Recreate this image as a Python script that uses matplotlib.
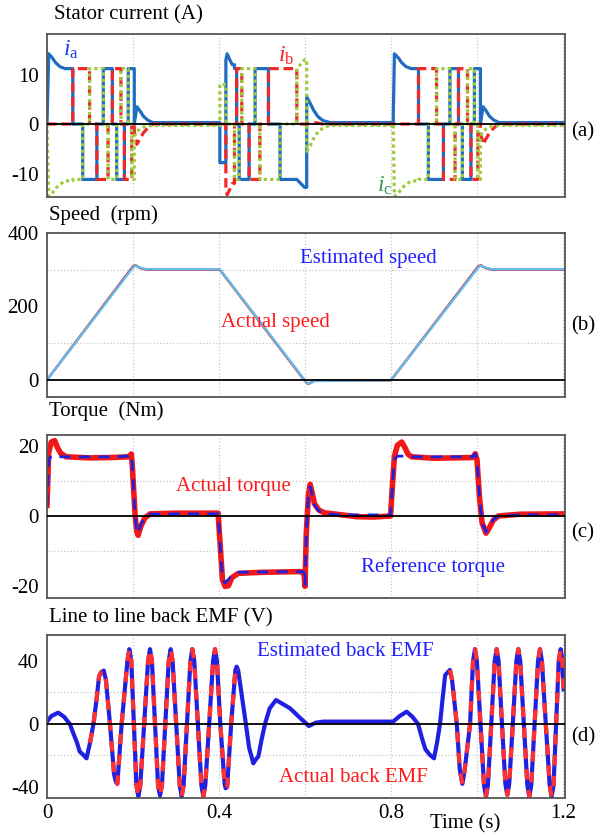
import numpy as np
import matplotlib
matplotlib.use('Agg')
import matplotlib.pyplot as plt

plt.rcParams['font.family'] = ['Liberation Serif', 'DejaVu Serif']
plt.rcParams['mathtext.fontset'] = 'custom'
plt.rcParams['mathtext.rm'] = 'Liberation Serif'
plt.rcParams['mathtext.it'] = 'Liberation Serif:italic'

# ---- (a) stator currents: breakpoints (s), phase levels (A) ----
# cur_jump = 1 where the current switches abruptly, 0 where it ramps from the previous point
cur_t = [0.000, 0.004, 0.012, 0.020, 0.030, 0.042, 0.060, 0.083, 0.099, 0.116,
         0.131, 0.142, 0.152, 0.162, 0.172, 0.180, 0.189, 0.197, 0.203, 0.209,
         0.216, 0.224, 0.234, 0.246,
         0.402, 0.416, 0.419, 0.425, 0.431, 0.436, 0.441, 0.447, 0.453, 0.470,
         0.484, 0.495, 0.515, 0.542, 0.581, 0.599, 0.604, 0.612, 0.620, 0.630,
         0.642, 0.658,
         0.805, 0.808, 0.817, 0.825, 0.835, 0.847, 0.864, 0.887, 0.906, 0.922,
         0.937, 0.949, 0.957, 0.966, 0.978, 0.986, 0.994, 1.002, 1.008, 1.014,
         1.021, 1.029, 1.039, 1.051, 1.205]
cur_jump = [1, 0, 0, 0, 0, 0, 1, 1, 1, 1,
            1, 1, 1, 1, 1, 1, 1, 1, 1, 0,
            0, 0, 0, 0,
            1, 1, 0, 0, 0, 1, 1, 1, 1, 1,
            1, 1, 1, 1, 1, 0, 1, 0, 0, 0,
            0, 0,
            1, 0, 0, 0, 0, 0, 1, 1, 1, 1,
            1, 1, 1, 1, 1, 1, 1, 1, 1, 0,
            0, 0, 0, 0, 0]
ia = [0.0, 14.2, 13.4, 12.4, 11.6, 11.2, 0, -11.2, -11.2, 0,
      11.2, 11.2, 0, -11.2, -11.2, 0, 11.2, 11.2, 0, 3.5,
      2.7, 1.6, 0.8, 0.3,
      -7.8, 13.0, 14.2, 13.0, 12.0, 11.2, 0, -11.2, -11.2, 0,
      11.2, 11.2, 0, -11.2, -11.2, -12.8, 5.5, 4.2, 2.8, 1.5,
      0.7, 0.3,
      0.0, 14.2, 13.4, 12.4, 11.6, 11.2, 0, -11.2, -11.2, 0,
      11.2, 11.2, 0, -11.2, -11.2, 0, 11.2, 11.2, 0, 3.5,
      2.7, 1.6, 0.8, 0.3, 0.3]
ib = [0, 0, 0, 0, 0, 0, 11.2, 11.2, 0, -11.2,
      -11.2, 0, 11.2, 11.2, 0, -11.2, -11.2, 0, -1.5, -4.1,
      -3.0, -1.8, -0.8, 0.0,
      0, -13.0, -14.3, -13.2, -12.0, 0, 11.2, 11.2, 0, -11.2,
      -11.2, 0, 11.2, 11.2, 0, 0, 0, 0.2, 0.3, 0.2,
      0, 0,
      0, 0, 0, 0, 0, 0, 11.2, 11.2, 0, -11.2,
      -11.2, 0, 11.2, 11.2, 0, -11.2, -11.2, 0, -1.5, -4.1,
      -3.0, -1.8, -0.8, 0.0, 0.0]
ic = [0.0, -14.6, -14.0, -13.0, -12.2, -11.5, -11.2, 0, 11.2, 11.2,
      0, -11.2, -11.2, 0, 11.2, 11.2, 0, -11.2, -2.5, -1.5,
      -1.0, -0.6, -0.4, -0.3,
      8.0, 0, 0, 0, 0, -11.2, -11.2, 0, 11.2, 11.2,
      0, -11.2, -11.2, 0, 11.2, 13.0, -5.5, -4.4, -2.9, -1.6,
      -0.8, -0.3,
      0.0, -14.6, -14.0, -13.0, -12.2, -11.5, -11.2, 0, 11.2, 11.2,
      0, -11.2, -11.2, 0, 11.2, 11.2, 0, -11.2, -2.5, -1.5,
      -1.0, -0.6, -0.4, -0.3, -0.3]

# ---- (b) speed (rpm) ----
spd_t = [0.000, 0.200, 0.206, 0.216, 0.232, 0.402, 0.598, 0.607, 0.611, 0.622,
         0.800, 1.003, 1.009, 1.019, 1.035, 1.205]
spd_act = [0, 309, 312, 305, 300, 300, 0, -11, -9, -2, -1, 309, 312, 305, 300, 300]
spd_est = [0, 306, 311, 306, 301, 301, 2, -10, -10, -3, -1, 306, 311, 306, 301, 301]

# ---- (c) torque (Nm) ----
trq_t = [0.000, 0.004, 0.010, 0.018, 0.024, 0.032, 0.045, 0.100, 0.150, 0.190,
         0.196, 0.198, 0.205, 0.209, 0.212, 0.218, 0.228, 0.240, 0.300, 0.398,
         0.401, 0.408, 0.414, 0.422, 0.430, 0.445, 0.500, 0.590, 0.598, 0.600,
         0.603, 0.608, 0.612, 0.616, 0.622, 0.632, 0.645, 0.680, 0.720, 0.760,
         0.799, 0.803, 0.808, 0.815, 0.825, 0.832, 0.840, 0.848, 0.900, 0.990,
         0.996, 1.000, 1.006, 1.012, 1.021, 1.028, 1.038, 1.050, 1.100, 1.205]
trq_act = [3.0, 18.0, 21.0, 21.4, 19.5, 17.8, 16.8, 16.5, 16.6, 16.8,
           17.6, 15.0, 0.0, -4.5, -5.5, -3.0, -0.5, 0.6, 0.8, 0.8,
           -5.0, -18.0, -20.0, -19.8, -17.5, -16.3, -16.0, -15.8, -16.5, -20.0,
           -5.0, 6.0, 9.0, 7.0, 3.5, 1.7, 0.9, 0.4, -0.2, -0.3,
           0.0, 8.0, 17.0, 20.1, 21.0, 19.5, 17.5, 16.8, 16.4, 16.6,
           17.7, 16.0, 5.0, -2.0, -4.9, -3.5, -1.2, 0.0, 0.5, 0.6]
trq_ref = [3.0, 16.0, 17.0, 17.0, 16.9, 16.8, 16.8, 16.8, 16.8, 17.0,
           17.5, 15.0, 0.0, -4.5, -5.0, -2.5, -0.3, 0.5, 0.6, 0.6,
           -5.0, -18.0, -19.0, -18.0, -17.0, -16.0, -15.9, -15.8, -16.0, -19.5,
           -5.0, 6.0, 8.3, 6.5, 3.0, 1.5, 0.6, 0.3, 0.3, 0.3,
           0.3, 8.0, 16.0, 17.0, 17.0, 17.0, 16.9, 16.8, 16.8, 16.8,
           17.7, 16.0, 5.0, -2.0, -4.5, -3.2, -1.0, 0.0, 0.3, 0.3]

# ---- (d) line-to-line back EMF (V) ----
emf_t = [0.000, 0.010, 0.026, 0.040, 0.053, 0.062, 0.070, 0.076, 0.084, 0.092,
         0.100, 0.108, 0.115, 0.121, 0.126, 0.132, 0.137, 0.1465, 0.156, 0.160,
         0.1636, 0.1736,
         0.1870, 0.1915, 0.1960, 0.2020, 0.2080, 0.2124, 0.2169, 0.2260,
         0.2350, 0.2395, 0.2440, 0.2512, 0.2583, 0.2628, 0.2673, 0.2752,
         0.2831, 0.2876, 0.2921, 0.3004, 0.3087, 0.3132, 0.3177, 0.3256,
         0.3335, 0.3380, 0.3425, 0.3508, 0.3591, 0.3636, 0.3681, 0.3772,
         0.3862, 0.3907, 0.3952, 0.4031,
         0.4130, 0.4155, 0.4190, 0.4283, 0.4380, 0.4411, 0.4445, 0.4625, 0.4700,
         0.4798, 0.4870, 0.4915, 0.4990, 0.5070, 0.5180, 0.5326, 0.5650, 0.5900, 0.6040,
         0.6090, 0.6250, 0.6420, 0.8050, 0.8200, 0.8365, 0.8500, 0.8630, 0.8720, 0.8800,
         0.8900, 0.9000, 0.9070, 0.9140, 0.9200, 0.9260, 0.9370, 0.9420, 0.9530, 0.9600,
         0.9660, 0.9710, 0.9840,
         0.9908, 0.9953, 0.9998, 1.0081, 1.0164, 1.0209, 1.0254, 1.0333,
         1.0412, 1.0457, 1.0502, 1.0581, 1.0660, 1.0705, 1.0750, 1.0833,
         1.0916, 1.0961, 1.1006, 1.1089, 1.1172, 1.1217, 1.1262, 1.1341,
         1.1420, 1.1465, 1.1510, 1.1600, 1.1691, 1.1736, 1.1781, 1.1841,
         1.1901, 1.1946, 1.1980, 1.2015]
emf_est = [1.5, 5.0, 7.2, 4.5, 0.0, -6.5, -12.0, -17.5, -19.5, -21.8,
           -12.0, 0.0, 15.0, 30.0, 33.0, 33.9, 28.0, 0.0, -32.0, -36.5,
           -38.0, 0.0,
           40.0, 47.5, 40.0, 0.0, -39.0, -46.0, -39.0, 0.0,
           40.0, 47.5, 40.0, 0.0, -39.0, -45.5, -39.0, 0.0,
           40.0, 47.5, 40.0, 0.0, -39.0, -46.0, -39.0, 0.0,
           40.0, 47.5, 40.0, 0.0, -39.0, -46.0, -39.0, 0.0,
           40.0, 47.5, 40.0, 0.0,
           -38.0, -40.8, -40.0, 0.0, 34.0, 36.4, 34.3, 0.0, -15.0,
           -25.0, -22.0, -20.7, -10.0, 0.0, 10.0, 15.2, 10.0, 3.5, 0.0,
           -1.3, 0.8, 1.5, 1.5, 5.0, 7.8, 4.5, 0.0, -9.0, -16.0,
           -19.5, -21.8, -12.0, 0.0, 16.0, 31.0, 34.3, 28.0, 0.0, -29.0,
           -38.0, -30.0, 0.0,
           40.0, 47.5, 40.0, 0.0, -39.0, -46.0, -39.0, 0.0,
           40.0, 47.5, 40.0, 0.0, -38.0, -45.0, -38.0, 0.0,
           40.0, 47.5, 40.0, 0.0, -39.0, -46.0, -39.0, 0.0,
           40.0, 47.5, 40.0, 0.0, -39.0, -46.0, -39.0, 0.0,
           40.0, 47.5, 42.0, 22.0]
# intervals where the measured (actual) EMF trace is visible
act_spans = [(0.100, 0.455), (0.935, 1.21)]

W, H = 596, 839
fig = plt.figure(figsize=(W / 100, H / 100), dpi=100)


def px_axes(left, top, right, bottom):
    return fig.add_axes([left / W, 1 - bottom / H, (right - left) / W, (bottom - top) / H])


def fig_text(x, y, s, **kw):
    kw.setdefault('fontsize', 15)
    fig.text(x / W, 1 - y / H, s, **kw)


def switched(t, v, jump):
    # polyline with vertical edges at switching instants
    xs, ys = [t[0]], [v[0]]
    for i in range(1, len(t)):
        if jump[i]:
            xs += [t[i], t[i]]
            ys += [v[i - 1], v[i]]
        else:
            xs.append(t[i])
            ys.append(v[i])
    return xs, ys


def style(ax, ylim, yticks, ygrid, bottom=False):
    ax.set_xlim(0, 1.2047)
    ax.set_ylim(*ylim)
    ax.set_xticks([0, 0.4, 0.8, 1.2])
    ax.set_xticklabels(['0', '0.4', '0.8', '1.2'])
    ax.set_xticks([0.2, 0.6, 1.0], minor=True)
    ax.set_yticks(yticks)
    ax.set_yticks(ygrid, minor=True)
    ax.set_yticklabels([f'{v:g}' for v in yticks])
    ax.xaxis.grid(True, which='both', ls=':', color='#c8c8c8', lw=0.9)
    ax.yaxis.grid(True, which='minor', ls=':', color='#c8c8c8', lw=0.9)
    ax.yaxis.grid(False, which='major')
    ax.tick_params(which='both', length=0, labelsize=15)
    ax.tick_params(axis='y', pad=6)
    ax.tick_params(axis='x', pad=4, labelbottom=bottom)
    for sp in ax.spines.values():
        sp.set_color('#555555')
        sp.set_linewidth(1.3)
    ax.axhline(0, color='black', lw=1.3, zorder=5)
    ax.set_axisbelow(True)


# (a)
ax1 = px_axes(47, 34, 565, 197)
style(ax1, (-14.75, 18.2), [-10, 0, 10], [-10, 10])
ax1.plot(*switched(cur_t, ia, cur_jump), color='#1f6cc0', lw=2.3)
ax1.plot(*switched(cur_t, ib, cur_jump), color='#f02828', lw=2.3, ls=(0, (3, 1.5)))
ax1.plot(*switched(cur_t, ic, cur_jump), color='#9ccc3c', lw=2.3, ls=(0, (1, 1)))
fig_text(54, 15, 'Stator current (A)', va='center')
fig_text(71, 50, r'$i_{\mathrm{a}}$', color='#2040e0', ha='center', va='center', fontsize=17)
fig_text(286, 56, r'$i_{\mathrm{b}}$', color='#ff2020', ha='center', va='center', fontsize=17)
fig_text(385, 186, r'$i_{\mathrm{c}}$', color='#2e9a5a', ha='center', va='center', fontsize=17)
fig_text(583, 132, '(a)', ha='center', va='center')

# (b)
ax2 = px_axes(47, 233, 565, 397)
style(ax2, (-46.6, 400), [0, 200, 400], [100, 200, 300])
ax2.plot(spd_t, spd_act, color='#e02020', lw=1.8)
ax2.plot(spd_t, spd_est, color='#5fbdf0', lw=1.7)
fig_text(49, 215, 'Speed  (rpm)', va='center')
fig_text(368, 258, 'Estimated speed', color='#2020ff', ha='center', va='center')
fig_text(275, 323, 'Actual speed', color='#ff1a1a', ha='center', va='center')
fig_text(583, 326, '(b)', ha='center', va='center')

# (c)
ax3 = px_axes(47, 435, 565, 598)
style(ax3, (-23.3, 23.0), [-20, 0, 20], [-10, 10])
ax3.plot(trq_t, trq_act, color='#f01818', lw=4.0, solid_joinstyle='round')
ax3.plot(trq_t, trq_ref, color='#2020e0', lw=2.0, ls=(0, (4, 3)))
fig_text(49, 411, 'Torque  (Nm)', va='center')
fig_text(233, 486, 'Actual torque', color='#ff1a1a', ha='center', va='center')
fig_text(433, 567, 'Reference torque', color='#2020ff', ha='center', va='center')
fig_text(583, 533, '(c)', ha='center', va='center')

# (d)
ax4 = px_axes(47, 635, 565, 798)
style(ax4, (-47.0, 56.5), [-40, 0, 40], [-40, -20, 20, 40], bottom=True)
t_arr = np.array(emf_t)
e_arr = np.array(emf_est)
ax4.plot(t_arr, e_arr, color='#2020e0', lw=3.0)
for t0, t1 in act_spans:
    m = (t_arr >= t0) & (t_arr <= t1)
    ax4.plot(t_arr[m], e_arr[m], color='#ff3030', lw=3.0, ls=(0, (2.5, 2.5)))
fig_text(49, 618, 'Line to line back EMF (V)', va='center')
fig_text(345, 652, 'Estimated back EMF', color='#2020ff', ha='center', va='center')
fig_text(353, 777, 'Actual back EMF', color='#ff1a1a', ha='center', va='center')
fig_text(583, 737, '(d)', ha='center', va='center')
fig_text(465, 824, 'Time (s)', ha='center', va='center')

fig.savefig('out.png', dpi=100)
